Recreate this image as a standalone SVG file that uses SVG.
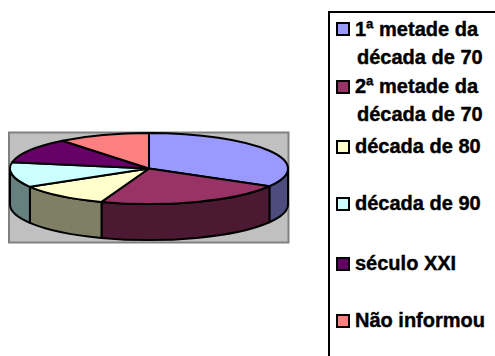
<svg xmlns="http://www.w3.org/2000/svg" width="495" height="356" viewBox="0 0 495 356">
<style>
.e{stroke:#000;stroke-width:2;stroke-linejoin:round}
.t{font-family:"Liberation Sans",Arial,sans-serif;font-weight:bold;font-size:20px;fill:#000;stroke:#000;stroke-width:0.4}
.sw{stroke:#000;stroke-width:2}
</style>
<rect width="495" height="356" fill="#fff"/>
<g id="plot">
<rect x="9" y="132.5" width="279.5" height="110" fill="#c0c0c0" stroke="#808080" stroke-width="2"/>
</g>
<g id="pie">
<path class="e" fill="#4C4C7F" d="M288,168.5 A139,35.5 0 0 1 269.4,186.25 L269.4,222.25 A139,35.5 0 0 0 288,204.5 Z"/>
<path class="e" fill="#4C1933" d="M269.4,186.25 A139,35.5 0 0 1 101.5,201.9 L101.5,237.9 A139,35.5 0 0 0 269.4,222.25 Z"/>
<path class="e" fill="#7F7F66" d="M101.5,201.9 A139,35.5 0 0 1 29.9,186.8 L29.9,222.8 A139,35.5 0 0 0 101.5,237.9 Z"/>
<path class="e" fill="#667F7F" d="M29.9,186.8 A139,35.5 0 0 1 10,168.5 L10,204.5 A139,35.5 0 0 0 29.9,222.8 Z"/>
<path class="e" fill="#9999FF" d="M149,168.5 L149,133 A139,35.5 0 0 1 269.4,186.25 Z"/>
<path class="e" fill="#993366" d="M149,168.5 L269.4,186.25 A139,35.5 0 0 1 101.5,201.9 Z"/>
<path class="e" fill="#FFFFCC" d="M149,168.5 L101.5,201.9 A139,35.5 0 0 1 29.9,186.8 Z"/>
<path class="e" fill="#CCFFFF" d="M149,168.5 L29.9,186.8 A139,35.5 0 0 1 12.1,162.3 Z"/>
<path class="e" fill="#660066" d="M149,168.5 L12.1,162.3 A139,35.5 0 0 1 62.5,140.7 Z"/>
<path class="e" fill="#FF8080" d="M149,168.5 L62.5,140.7 A139,35.5 0 0 1 149,133 Z"/>
</g>
<g id="legend">
<rect x="329" y="12" width="200" height="400" fill="#fff" stroke="#000" stroke-width="2"/>
<rect class="sw" x="337" y="23" width="12" height="12" fill="#9999FF"/>
<text class="t" x="355" y="36">1ª metade da</text>
<text class="t" x="357" y="64">década de 70</text>
<rect class="sw" x="337" y="81" width="12" height="12" fill="#993366"/>
<text class="t" x="355" y="93">2ª metade da</text>
<text class="t" x="357" y="121">década de 70</text>
<rect class="sw" x="337" y="141" width="12" height="12" fill="#FFFFCC"/>
<text class="t" x="355" y="153">década de 80</text>
<rect class="sw" x="337" y="198" width="12" height="12" fill="#CCFFFF"/>
<text class="t" x="355" y="210">década de 90</text>
<rect class="sw" x="337" y="258" width="12" height="12" fill="#660066"/>
<text class="t" x="355" y="270">século XXI</text>
<rect class="sw" x="337" y="315" width="12" height="12" fill="#FF8080"/>
<text class="t" x="355" y="327">Não informou</text>
</g>
</svg>
